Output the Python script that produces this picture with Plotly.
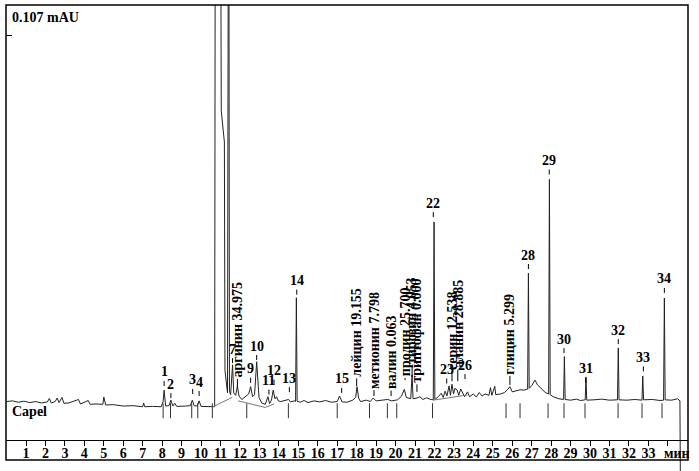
import plotly.graph_objects as go

# chromatogram trace: retention time (min) / signal (uAU)
trace_time = [
    0.00, 0.30, 0.60, 0.90, 1.20, 1.50, 1.80, 2.10, 2.20, 2.30, 2.50, 2.60, 2.70, 2.85, 2.95,
    3.20, 3.70, 3.80, 4.20, 4.30, 4.60, 4.95, 5.00, 5.10, 5.50, 6.00, 6.50, 7.00, 7.05, 7.10,
    7.50, 7.95, 8.05, 8.10, 8.18, 8.35, 8.45, 8.55, 8.65, 8.75, 9.20, 9.45, 9.55, 9.65, 9.80,
    9.90, 10.00, 10.50, 10.70,
    10.74, 10.98, 11.04, 11.20, 11.23, 11.36, 11.42, 11.46,
    11.52, 11.62, 11.68, 11.78, 11.87, 11.95, 12.10, 12.30, 12.45, 12.55, 12.65, 12.75, 12.86,
    12.98, 13.12, 13.30, 13.44, 13.52, 13.62, 13.71, 13.80, 13.88, 13.97, 14.10, 14.30, 14.50,
    14.60, 14.80, 14.86, 14.90, 14.94, 15.10, 15.30, 15.50, 15.80, 16.10, 16.40, 16.70, 17.00,
    17.12, 17.25, 17.50, 17.80, 17.95, 18.02, 18.10, 18.20, 18.50, 18.70, 18.85, 19.00, 19.30,
    19.60, 19.80, 20.10, 20.30, 20.45, 20.55, 20.78, 20.85, 20.90, 21.10, 21.25, 21.40, 21.60,
    21.80, 21.94, 21.98, 22.02, 22.20, 22.35, 22.45, 22.55, 22.64, 22.75, 22.82, 22.90, 22.98,
    23.05, 23.16, 23.25, 23.35, 23.47, 23.55, 23.70, 23.80, 24.00, 24.15, 24.30, 24.45, 24.60,
    24.80, 24.88, 24.95, 25.10, 25.15, 25.40, 25.60, 25.75, 25.88, 26.00, 26.20, 26.40, 26.60,
    26.79, 26.83, 26.87, 27.00, 27.17, 27.30, 27.50, 27.70, 27.87, 27.91, 27.95, 28.10, 28.40,
    28.64, 28.68, 28.72, 29.00, 29.30, 29.50, 29.75, 29.79, 29.83, 30.20, 30.60, 31.00, 31.41,
    31.45, 31.49, 31.90, 32.30, 32.67, 32.71, 32.75, 33.20, 33.60, 33.78, 33.82, 33.86, 34.20,
    34.50, 34.62, 34.66,
]
trace_signal = [
    1.0, 1.2, 0.8, 1.1, 0.7, 1.0, 0.6, 0.9, 1.9, 0.6, 1.0, 2.0, 0.7, 2.2, 0.5,
    0.6, 1.6, 0.3, 1.3, 0.2, 0.3, 0.2, 2.3, 0.0, 0.1, -0.3, -0.2, -0.5, 0.6, -0.5,
    -0.4, -0.5, 1.0, 4.3, -0.3, -0.2, 1.4, -0.3, 0.5, -0.4, -0.3, -0.2, 1.4, -0.2, -0.3,
    1.2, -0.4, -0.5, -0.5,
    200.0, 200.0, 85.0, 76.0, 10.0, 3.5, 200.0, 4.0,
    3.0, 11.6, 3.5, 2.8, 5.5, 2.6, 1.6, 2.6, 3.2, 5.3, 2.4, 3.0, 12.5,
    2.2, 0.6, 0.2, 2.4, 0.4, 1.4, 4.3, 1.8, 2.4, 1.2, 1.0, 1.3, 1.6,
    0.9, 1.2, 1.0, 31.0, 1.1, 0.8, 1.3, 0.7, 1.2, 0.9, 1.3, 0.8, 1.0,
    2.6, 0.9, 0.8, 1.4, 2.2, 5.3, 2.0, 1.0, 1.4, 1.0, 2.0, 1.2, 1.5,
    1.6, 1.2, 1.5, 2.5, 4.5, 2.2, 1.8, 8.7, 1.8, 2.0, 2.4, 1.6, 2.1,
    1.6, 1.5, 52.9, 1.6, 2.4, 3.4, 2.2, 4.0, 2.6, 5.5, 2.8, 6.0, 3.2,
    4.8, 4.4, 2.8, 4.6, 3.4, 2.4, 3.8, 2.4, 3.2, 2.3, 3.6, 2.6, 3.2,
    2.8, 5.0, 2.8, 5.4, 3.0, 3.2, 3.6, 4.4, 5.3, 3.8, 4.0, 4.4, 4.3,
    4.6, 38.1, 4.8, 5.6, 7.2, 5.8, 4.6, 3.6, 3.2, 65.2, 3.0, 2.4, 1.8,
    1.6, 14.0, 1.6, 1.4, 1.7, 1.3, 1.5, 8.1, 1.4, 1.5, 1.7, 1.4, 1.5,
    16.5, 1.5, 1.4, 1.6, 1.4, 8.4, 1.5, 1.6, 1.3, 1.4, 30.9, 1.5, 1.4,
    1.8, 1.2, -40.0,
]

# integration marks under the peaks (min)
mark_time = [8.05, 8.43, 9.52, 9.83, 10.58, 12.35, 14.49, 17.00, 18.66, 19.58, 20.06,
             21.90, 25.68, 26.40, 27.84, 28.66, 29.74, 31.44, 32.67, 33.70]

# integration baseline chords
chord_time = [10.58, 11.60, None, 11.90, 13.30, 13.75, None, 21.93, 23.70]
chord_signal = [-0.6, 2.2, None, 1.2, -0.7, 0.3, None, 1.4, 2.9]

# numbered peaks: label, time, height of the label tick
peak_num = ["1", "2", "3", "4", "7", "9", "10", "11", "12", "13", "14", "15", "22", "23",
            "26", "28", "29", "30", "31", "32", "33", "34"]
peak_num_t = [8.10, 8.45, 9.57, 9.90, 11.62, 12.55, 12.86, 13.49, 13.75, 14.54, 14.92,
              17.23, 21.94, 22.63, 23.57, 26.83, 27.90, 28.66, 29.78, 31.45, 32.74, 33.82]
peak_num_y = [5.5, 2.0, 3.2, 2.6, 12.1, 6.4, 13.0, 3.0, 5.9, 3.7, 31.9,
              3.5, 54.3, 6.2, 7.5, 39.3, 66.6, 15.0, 6.4, 17.6, 9.7, 32.4]

# identified amino acids: name with amount, time, height of the label tick
amino = ["аргинин 34.975", "лейцин 19.155", "метионин 7.798", "валин 0.063",
         "пролин 25.700", "тирозин 4.053", "триптофан 0.000", "серин 12.538",
         "аланин 28.885", "глицин 5.299"]
amino_t = [11.87, 18.00, 18.89, 19.77, 20.49, 20.85, 21.10, 22.90, 23.20, 25.88]
amino_y = [5.2, 5.5, 2.6, 2.6, 7.2, 8.1, 3.8, 6.9, 6.9, 5.8]
amino_ay = [-57, -53, -56, -44, -48, -56, -61, -51, -57, -51]

x_ticks = list(range(1, 35))
x_tick_text = [str(i) for i in range(1, 34)] + [""]

SERIF = "Liberation Serif"

fig = go.Figure()
fig.add_trace(go.Scatter(
    x=trace_time, y=trace_signal, mode="lines",
    line=dict(color="#222222", width=1), hoverinfo="skip",
))
mx, my = [], []
for t in mark_time:
    mx += [t, t, None]
    my += [0.5, -3.8, None]
fig.add_trace(go.Scatter(x=mx, y=my, mode="lines",
                         line=dict(color="#333333", width=1), hoverinfo="skip"))
fig.add_trace(go.Scatter(x=chord_time, y=chord_signal, mode="lines",
                         line=dict(color="#777777", width=1), hoverinfo="skip"))

for lab, t, y in zip(peak_num, peak_num_t, peak_num_y):
    fig.add_annotation(
        x=t, y=y, text=lab, showarrow=True, arrowhead=0, arrowwidth=1,
        arrowcolor="black", ax=0, ay=-14, standoff=0,
        font=dict(family=SERIF, size=14, color="black", weight="bold"),
    )
for lab, t, y, ay in zip(amino, amino_t, amino_y, amino_ay):
    fig.add_annotation(
        x=t, y=y, text=lab, textangle=-90, showarrow=True, arrowhead=0,
        arrowwidth=1, arrowcolor="black", ax=0, ay=ay, standoff=0,
        font=dict(family=SERIF, size=14, color="black", weight="bold"),
    )

fig.add_annotation(x=0.006, xref="paper", y=112.1, yref="y", text="0.107 mAU",
                   showarrow=False, xanchor="left", yanchor="middle",
                   font=dict(family=SERIF, size=14, color="black", weight="bold"))
fig.add_annotation(x=0.006, xref="paper", y=-1.9, yref="y", text="Capel",
                   showarrow=False, xanchor="left", yanchor="middle",
                   font=dict(family=SERIF, size=14, color="black", weight="bold"))
fig.add_annotation(x=34.45, y=0.038, yref="paper", text="мин", showarrow=False,
                   xanchor="center", yanchor="middle",
                   font=dict(family=SERIF, size=14, color="black", weight="bold"))

# outer frame of the printout
fig.add_shape(type="rect", xref="paper", yref="paper", x0=0, x1=1, y0=0.0236, y1=1,
              line=dict(color="black", width=1.5))

fig.update_layout(
    width=699, height=471,
    margin=dict(l=6, r=11, t=5, b=0, autoexpand=False),
    paper_bgcolor="white", plot_bgcolor="white",
    showlegend=False,
    xaxis=dict(
        range=[-0.028, 35.035], anchor="free", position=0.0665, automargin=False,
        showline=True, linecolor="black", linewidth=1,
        ticks="outside", ticklen=5, tickcolor="black", ticklabelstandoff=-5,
        tickvals=x_ticks, ticktext=x_tick_text, showgrid=False, zeroline=False,
        tickfont=dict(family=SERIF, size=14, color="black", weight="bold"),
    ),
    yaxis=dict(
        range=[-19.07, 115.6], showgrid=False, zeroline=False, showline=False,
        automargin=False,
        ticks="inside", ticklen=6, tickcolor="black", tickvals=[106.9],
        showticklabels=False,
    ),
)

# the page body has a default 8px margin; drop it so the figure sits at the corner
fig.write_html("out.html", config={"displayModeBar": False},
               post_script="document.body.style.margin='0px';")
